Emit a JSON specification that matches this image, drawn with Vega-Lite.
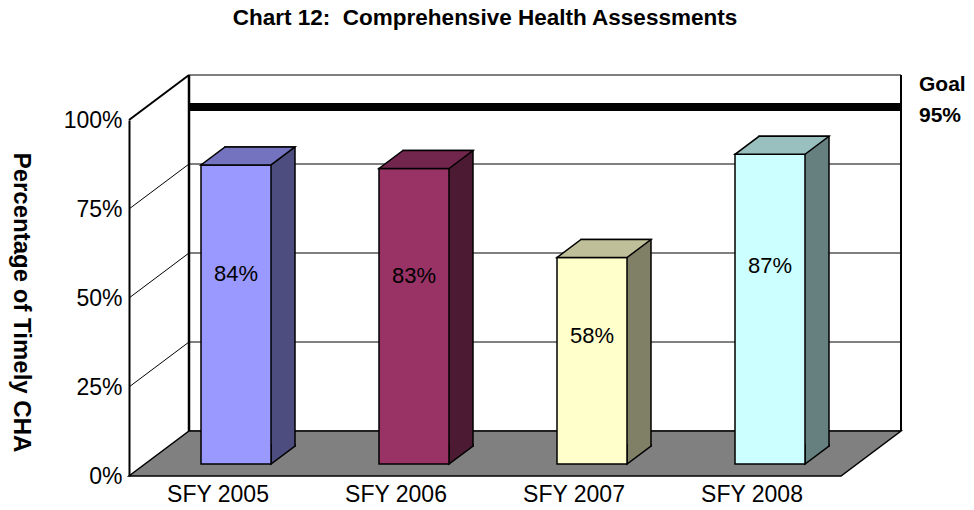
{
  "$schema": "https://vega.github.io/schema/vega-lite/v6.json",
  "width": 712,
  "height": 356,
  "autosize": "none",
  "padding": {"left": 129, "top": 120, "right": 133, "bottom": 34},
  "background": "white",
  "config": {
    "view": {"stroke": null},
    "font": "Liberation Sans",
    "axis": {"grid": false, "labelColor": "black", "titleColor": "black", "labelFont": "Liberation Sans", "titleFont": "Liberation Sans"},
    "axisX": {"labelFontSize": 23, "labelAngle": 0, "domain": false, "ticks": false, "labelPadding": 7},
    "axisY": {"labelFontSize": 23, "domainColor": "black", "domainWidth": 2, "ticks": false, "labelPadding": 7, "titleFontSize": 24, "titleFontWeight": "bold", "titleAngle": 90, "titleX": -109, "titleY": 182, "titleAlign": "center", "titleBaseline": "middle", "zindex": 1}
  },
  "title": {"text": "Chart 12:\u00a0 Comprehensive Health Assessments", "fontSize": 22.5, "fontWeight": "bold", "font": "Liberation Sans", "color": "black", "anchor": "middle", "frame": "group", "offset": 26, "baseline": "alphabetic"},
  "datasets": {
    "cha": [
      {"year": "SFY 2005", "value": 0.84},
      {"year": "SFY 2006", "value": 0.83},
      {"year": "SFY 2007", "value": 0.58},
      {"year": "SFY 2008", "value": 0.87}
    ]
  },
  "data": {"name": "cha"},
  "resolve": {"scale": {"fill": "independent"}},
  "layer": [
    {
      "data": {"values": [{}]},
      "mark": {"type": "rect", "fill": "white", "stroke": "black", "strokeWidth": 1, "xOffset": 60, "x2Offset": 60, "yOffset": -45, "y2Offset": -45},
      "encoding": {
        "x": {"value": 0}, "x2": {"value": "width"},
        "y": {"datum": 0, "type": "quantitative", "scale": {"domain": [0, 1], "nice": false}},
        "y2": {"datum": 1}
      }
    },
    {
      "data": {"values": [{"t": 0.25}, {"t": 0.5}, {"t": 0.75}]},
      "mark": {"type": "rule", "color": "black", "strokeWidth": 1, "xOffset": 60, "x2Offset": 60, "yOffset": -45},
      "encoding": {
        "x": {"value": 0}, "x2": {"value": "width"},
        "y": {"field": "t", "type": "quantitative"}
      }
    },
    {
      "data": {"values": [{}]},
      "mark": {"type": "rule", "color": "black", "strokeWidth": 8, "strokeCap": "butt", "xOffset": 60, "x2Offset": 60, "yOffset": -45},
      "encoding": {
        "x": {"value": 0}, "x2": {"value": "width"},
        "y": {"datum": 0.91, "type": "quantitative"}
      }
    },
    {
      "data": {"values": [{}]},
      "mark": {"type": "rule", "color": "black", "strokeWidth": 2.5, "xOffset": 60, "yOffset": -45, "y2Offset": -45},
      "encoding": {
        "x": {"value": 0},
        "y": {"datum": 0, "type": "quantitative"}, "y2": {"datum": 1}
      }
    },
    {
      "data": {"values": [{}]},
      "mark": {"type": "rule", "color": "black", "strokeWidth": 2, "xOffset": 60, "yOffset": -45, "y2Offset": -45},
      "encoding": {
        "x": {"value": "width"},
        "y": {"datum": 0, "type": "quantitative"}, "y2": {"datum": 1}
      }
    },
    {
      "data": {"values": [{"t": 0.25}, {"t": 0.5}, {"t": 0.75}]},
      "mark": {"type": "rule", "color": "black", "strokeWidth": 1, "x2Offset": 60, "y2Offset": -45},
      "encoding": {
        "x": {"value": 0}, "x2": {"value": 0},
        "y": {"field": "t", "type": "quantitative"}, "y2": {"field": "t"}
      }
    },
    {
      "data": {"values": [{"t": 1}]},
      "mark": {"type": "rule", "color": "black", "strokeWidth": 2, "x2Offset": 60, "y2Offset": -45},
      "encoding": {
        "x": {"value": 0}, "x2": {"value": 0},
        "y": {"field": "t", "type": "quantitative"}, "y2": {"field": "t"}
      }
    },
    {
      "data": {"values": [{}]},
      "mark": {"type": "point", "shape": "M0,0 L712,0 L772,-45 L60,-45 Z", "size": 4, "filled": true, "fill": "#808080", "stroke": "black", "strokeWidth": 1.5, "opacity": 1},
      "encoding": {
        "x": {"value": 0},
        "y": {"datum": 0, "type": "quantitative"}
      }
    },
    {
      "mark": {"type": "bar", "width": 70, "stroke": "black", "strokeWidth": 1.5, "xOffset": 42, "yOffset": -30, "y2Offset": -30, "opacity": 1},
      "encoding": {
        "x": {"field": "year", "type": "nominal", "sort": null, "title": null, "scale": {"paddingInner": 0, "paddingOuter": 0}},
        "y": {"field": "value", "type": "quantitative", "title": "Percentage of Timely CHA", "axis": {"values": [0, 0.25, 0.5, 0.75, 1], "format": ".0%"}},
        "fill": {"field": "year", "type": "nominal", "sort": null, "legend": null, "scale": {"range": ["#4D4D80", "#4D1A33", "#808066", "#668080"]}}
      }
    },
    {
      "mark": {"type": "point", "shape": "M59,-20 L59,-18 L35,0 L35,-20", "size": 4, "filled": true, "stroke": "black", "strokeWidth": 1.5, "opacity": 1, "xOffset": 18, "yOffset": -12},
      "encoding": {
        "x": {"field": "year", "type": "nominal", "sort": null},
        "y": {"datum": 0, "type": "quantitative"},
        "fill": {"field": "year", "type": "nominal", "sort": null, "legend": null, "scale": {"range": ["#4D4D80", "#4D1A33", "#808066", "#668080"]}}
      }
    },
    {
      "mark": {"type": "bar", "width": 70, "stroke": "black", "strokeWidth": 1.5, "xOffset": 18, "yOffset": -12, "y2Offset": -12, "opacity": 1},
      "encoding": {
        "x": {"field": "year", "type": "nominal", "sort": null},
        "y": {"field": "value", "type": "quantitative"},
        "fill": {"field": "year", "type": "nominal", "sort": null, "legend": null, "scale": {"range": ["#9999FF", "#993366", "#FFFFCC", "#CCFFFF"]}}
      }
    },
    {
      "mark": {"type": "point", "shape": "M-35,0 L35,0 L59,-18 L-11,-18 Z", "size": 4, "filled": true, "stroke": "black", "strokeWidth": 1.5, "opacity": 1, "xOffset": 18, "yOffset": -12},
      "encoding": {
        "x": {"field": "year", "type": "nominal", "sort": null},
        "y": {"field": "value", "type": "quantitative"},
        "fill": {"field": "year", "type": "nominal", "sort": null, "legend": null, "scale": {"range": ["#7373BF", "#73264D", "#BFBF99", "#99BFBF"]}}
      }
    },
    {
      "mark": {"type": "text", "fontSize": 22, "font": "Liberation Sans", "color": "black", "baseline": "middle", "xOffset": 18, "yOffset": {"expr": "115*datum.value"}},
      "encoding": {
        "x": {"field": "year", "type": "nominal", "sort": null},
        "y": {"field": "value", "type": "quantitative"},
        "text": {"field": "value", "type": "quantitative", "format": ".0%"}
      }
    },
    {
      "data": {"values": [{}]},
      "mark": {"type": "text", "align": "left", "baseline": "middle", "fontSize": 21, "fontWeight": "bold", "font": "Liberation Sans", "color": "black", "lineHeight": 31, "xOffset": 78, "yOffset": -67},
      "encoding": {
        "x": {"value": "width"},
        "y": {"datum": 0.91, "type": "quantitative"},
        "text": {"value": ["Goal", "95%"]}
      }
    }
  ]
}
